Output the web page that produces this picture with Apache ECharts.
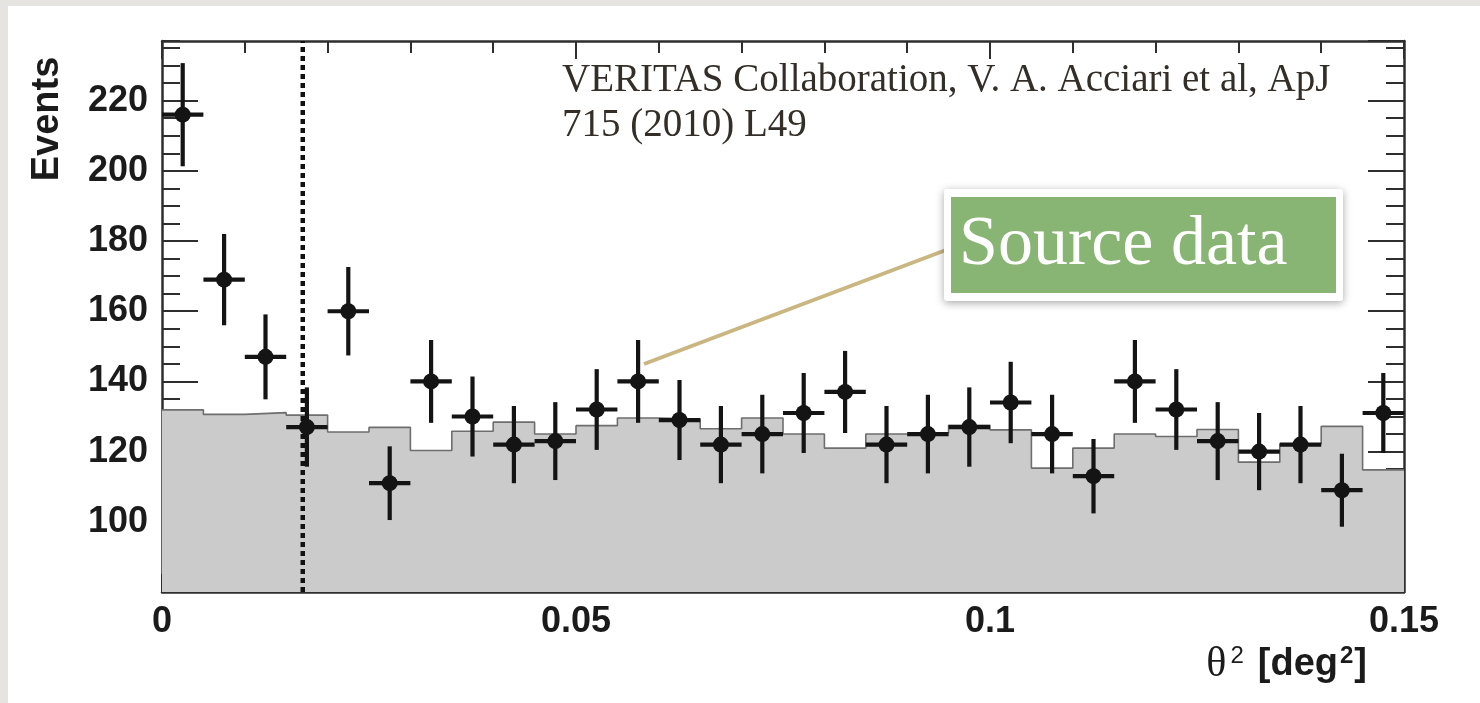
<!DOCTYPE html>
<html>
<head>
<meta charset="utf-8">
<script src="https://cdn.jsdelivr.net/npm/echarts@6/dist/echarts.min.js"></script>
<style>
  html, body { margin: 0; padding: 0; width: 1480px; height: 703px; background: #e6e4e0; overflow: hidden; }
  #paper { position: absolute; left: 8px; top: 6px; width: 1472px; height: 697px; background: #ffffff; }
  #chart { position: absolute; left: 0; top: 0; width: 1480px; height: 703px; }
</style>
</head>
<body>
<div id="paper"></div>
<div id="chart"></div>
<script>
// theta^2 bin centres [deg^2], bin width 0.005
const binCentres = [0.0025, 0.0075, 0.0125, 0.0175, 0.0225, 0.0275, 0.0325, 0.0375, 0.0425, 0.0475,
                    0.0525, 0.0575, 0.0625, 0.0675, 0.0725, 0.0775, 0.0825, 0.0875, 0.0925, 0.0975,
                    0.1025, 0.1075, 0.1125, 0.1175, 0.1225, 0.1275, 0.1325, 0.1375, 0.1425, 0.1475];
const binWidth = 0.005;
// ON-source events (points)
const onEvents = [216, 169, 147, 127, 160, 111, 140, 130, 122, 123,
                  132, 140, 129, 122, 125, 131, 137, 122, 125, 127,
                  134, 125, 113, 140, 132, 123, 120, 122, 109, 131];
// statistical errors
const onErrors = [14.7, 13.0, 12.1, 11.3, 12.6, 10.5, 11.8, 11.4, 11.0, 11.1,
                  11.5, 11.8, 11.4, 11.0, 11.2, 11.4, 11.7, 11.0, 11.2, 11.3,
                  11.6, 11.2, 10.6, 11.8, 11.5, 11.1, 11.0, 11.0, 10.4, 11.4];
// background (gray histogram)
const bgEvents = [131.9, 130.6, 131.1, 130.4, 125.6, 126.9, 120.3, 125.8, 128.4, 125.0,
                  127.4, 129.6, 129.3, 126.5, 129.6, 125.0, 121.0, 125.0, 125.4, 127.5,
                  126.2, 115.3, 121.0, 125.0, 124.3, 126.3, 117.0, 122.2, 127.2, 114.8];
// theta^2 cut (dotted line)
const cutValue = 0.017;
const yRange = [80, 237];
const xTickLabels = { 0: '0', 0.05: '0.05', 0.1: '0.1', 0.15: '0.15' };

const histData = binCentres.map((c, i) => [c - binWidth / 2, bgEvents[i]]);
histData.push([binCentres[binCentres.length - 1] + binWidth / 2, bgEvents[bgEvents.length - 1]]);
const pointData = binCentres.map((c, i) => [c, onEvents[i], onErrors[i]]);
const cutData = [[cutValue, yRange[0]], [cutValue, yRange[1]]];

const FRAME = '#2e2e2e';
const sansBold = { fontFamily: 'Liberation Sans', fontWeight: 'bold', color: '#1b1b1b' };

function xAxisCfg(pos, labels) {
  return {
    type: 'value', position: pos, min: 0, max: 0.15, interval: 0.05,
    axisLine: { show: true, onZero: false, lineStyle: { color: FRAME, width: 2.5 } },
    axisTick: { show: true, inside: true, length: 18, lineStyle: { color: FRAME, width: 2 } },
    minorTick: { show: true, splitNumber: 5, length: 12, lineStyle: { color: FRAME, width: 2 } },
    splitLine: { show: false },
    axisLabel: labels ? Object.assign({ show: true, fontSize: 36, margin: 12,
      formatter: v => { const k = Math.round(v * 100) / 100; return xTickLabels[k] !== undefined ? xTickLabels[k] : ''; } }, sansBold)
      : { show: false }
  };
}
function yAxisCfg(pos, interval, len, line, labels) {
  return {
    type: 'value', position: pos, min: yRange[0], max: yRange[1], interval: interval,
    axisLine: { show: line, onZero: false, lineStyle: { color: FRAME, width: 2.5 } },
    axisTick: { show: true, inside: true, length: len, lineStyle: { color: FRAME, width: 2 } },
    splitLine: { show: false },
    axisLabel: labels ? Object.assign({ show: true, fontSize: 36, margin: 14, showMinLabel: false, showMaxLabel: false }, sansBold)
      : { show: false }
  };
}

const chart = echarts.init(document.getElementById('chart'), null, { renderer: 'canvas' });
chart.setOption({
  backgroundColor: 'transparent',
  animation: false,
  grid: { left: 162, right: 76, top: 41, bottom: 111, show: true, backgroundColor: '#ffffff', borderWidth: 0 },
  xAxis: [xAxisCfg('bottom', true), xAxisCfg('top', false)],
  yAxis: [
    yAxisCfg('left', 20, 36, true, true),
    yAxisCfg('left', 5, 18, false, false),
    yAxisCfg('right', 20, 36, true, false),
    yAxisCfg('right', 5, 18, false, false)
  ],
  series: [
    {
      name: 'Background', type: 'line', step: 'end', xAxisIndex: 0, yAxisIndex: 0,
      data: histData, symbol: 'none', z: 1,
      lineStyle: { color: '#6e6e6e', width: 1.6 },
      areaStyle: { color: '#cbcbcb', origin: 'start', opacity: 1 }
    },
    {
      name: 'Cut', type: 'line', xAxisIndex: 0, yAxisIndex: 0, z: 3,
      data: cutData, symbol: 'none', silent: true,
      lineStyle: { color: '#111111', width: 4.5, type: [5, 4] }
    },
    {
      name: 'Source data', type: 'custom', xAxisIndex: 0, yAxisIndex: 0, z: 5,
      data: pointData,
      renderItem: function (params, api) {
        const x = api.value(0), y = api.value(1), e = api.value(2);
        const c = api.coord([x, y]);
        const lo = api.coord([x - binWidth / 2, y - e]);
        const hi = api.coord([x + binWidth / 2, y + e]);
        const st = { stroke: '#141414', lineWidth: 4.2 };
        return {
          type: 'group', children: [
            { type: 'line', shape: { x1: c[0], y1: hi[1], x2: c[0], y2: lo[1] }, style: st },
            { type: 'line', shape: { x1: lo[0], y1: c[1], x2: hi[0], y2: c[1] }, style: st },
            { type: 'circle', shape: { cx: c[0], cy: c[1], r: 8 }, style: { fill: '#141414' } }
          ]
        };
      }
    }
  ],
  graphic: [
    { type: 'text', x: 48, y: 119, rotation: Math.PI / 2,
      style: { text: 'Events', font: 'bold 38px "Liberation Sans"', fill: '#1b1b1b', align: 'center', verticalAlign: 'middle' } },
    { type: 'text', x: 1367, y: 665,
      style: { text: '{th|θ}{s|2}{b|[deg}{s2|2}{b|]}', align: 'right', verticalAlign: 'middle',
        rich: {
          th: { fontFamily: 'Liberation Serif', fontSize: 42, fill: '#1b1b1b' },
          s: { fontFamily: 'Liberation Sans', fontSize: 24, fill: '#1b1b1b', verticalAlign: 'top', padding: [0, 14, 0, 4] },
          b: { fontFamily: 'Liberation Sans', fontWeight: 'bold', fontSize: 38, fill: '#1b1b1b' },
          s2: { fontFamily: 'Liberation Sans', fontWeight: 'bold', fontSize: 24, fill: '#1b1b1b', verticalAlign: 'top', padding: [0, 1, 0, 2] }
        } } },
    { type: 'text', left: 562, top: 58, z: 10,
      style: { text: 'VERITAS Collaboration, V. A. Acciari et al, ApJ\n715 (2010) L49', font: '39px "Liberation Serif"',
        fill: '#342e28', lineHeight: 45 } },
    { type: 'line', z: 8, shape: { x1: 644, y1: 364, x2: 946, y2: 250 },
      style: { stroke: '#c9b681', lineWidth: 4 } },
    { type: 'rect', z: 9, shape: { x: 944, y: 189, width: 399, height: 112, r: 3 },
      style: { fill: '#ffffff', shadowBlur: 8, shadowOffsetY: 2, shadowColor: 'rgba(0,0,0,0.35)' } },
    { type: 'rect', z: 10, shape: { x: 951, y: 197, width: 385, height: 96 },
      style: { fill: '#89b574' } },
    { type: 'text', z: 11, x: 959, y: 246,
      style: { text: 'Source data', font: '70px "Liberation Serif"', fill: '#ffffff', verticalAlign: 'middle' } }
  ]
});
</script>
</body>
</html>
